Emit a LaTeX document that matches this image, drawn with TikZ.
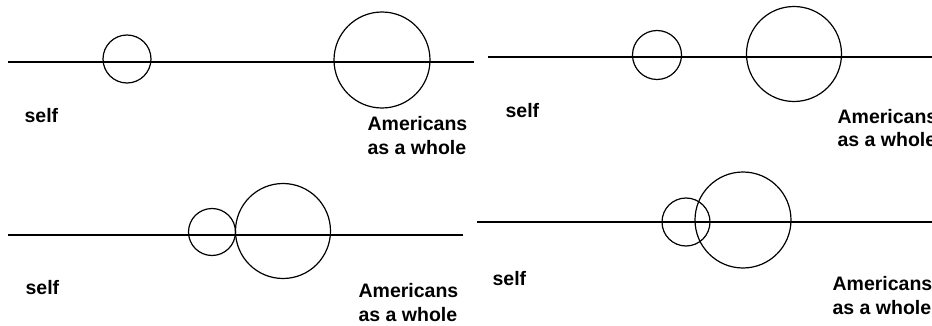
\documentclass[tikz,border=0pt]{standalone}
\usepackage{fontspec}
\setmainfont{Liberation Sans}
\begin{document}
\begin{tikzpicture}[x=1pt, y=-1pt, line width=1.2pt,
		ring/.style={draw, circle, inner sep=0pt},
		lbl/.style={font=\bfseries\fontsize{19.5}{23.5}\selectfont, inner sep=0pt, align=left, anchor=base west}]
			\useasboundingbox (0,0) rectangle (932,326);
			\coordinate (lineA1) at (8,62);
			\coordinate (lineA2) at (474,62);
			\draw (lineA1) -- (lineA2);
			\node[ring, minimum size=48pt] (selfA) at (127,59) {};
			\node[ring, minimum size=96pt] (amerA) at (382,60) {};
			\node[lbl] (selfTxtA) at (24,123) {self};
			\node[lbl] (amerTxtA) at (367,154) {Americans\\as a whole};
			\coordinate (lineB1) at (488,57);
			\coordinate (lineB2) at (932,57);
			\draw (lineB1) -- (lineB2);
			\node[ring, minimum size=49pt] (selfB) at (657,55) {};
			\node[ring, minimum size=95pt] (amerB) at (794,54) {};
			\node[lbl] (selfTxtB) at (505,118) {self};
			\node[lbl] (amerTxtB) at (837,147) {Americans\\as a whole};
			\coordinate (lineC1) at (8,235);
			\coordinate (lineC2) at (463,235);
			\draw (lineC1) -- (lineC2);
			\node[ring, minimum size=47pt] (selfC) at (212,232) {};
			\node[ring, minimum size=95pt] (amerC) at (283,231) {};
			\node[lbl] (selfTxtC) at (25,294) {self};
			\node[lbl] (amerTxtC) at (358,321) {Americans\\as a whole};
			\coordinate (lineD1) at (477,222);
			\coordinate (lineD2) at (932,222);
			\draw (lineD1) -- (lineD2);
			\node[ring, minimum size=48pt] (selfD) at (686,222) {};
			\node[ring, minimum size=96pt] (amerD) at (743,220) {};
			\node[lbl] (selfTxtD) at (492,285) {self};
			\node[lbl] (amerTxtD) at (832,314) {Americans\\as a whole};
		\end{tikzpicture}
\end{document}
